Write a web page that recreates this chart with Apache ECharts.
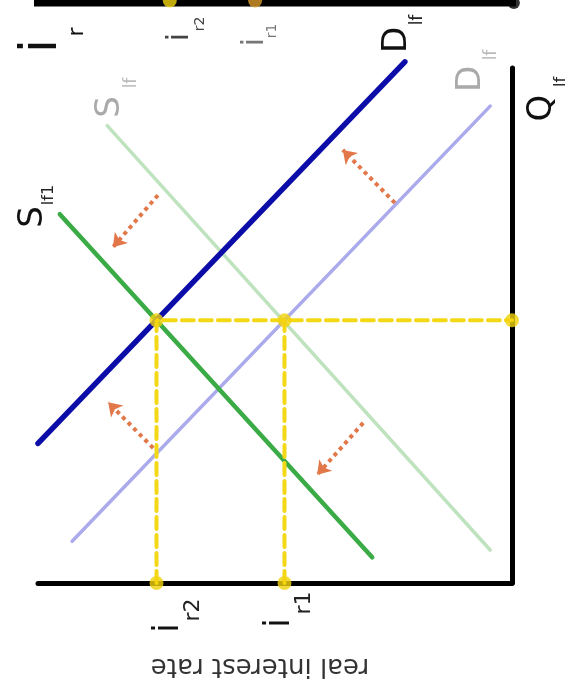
<!DOCTYPE html>
<html>
<head>
<meta charset="utf-8">
<script src="https://cdn.jsdelivr.net/npm/echarts@6/dist/echarts.min.js"></script>
<style>
  html, body { margin: 0; padding: 0; background: #fff; }
  #chart { width: 573px; height: 698px; }
</style>
</head>
<body>
<div id="chart"></div>
<script>
// loanable funds diagram (picture is turned a quarter turn)
// x = real interest rate (grows to the left), y = quantity Q_lf (grows upward)
const demandDark = [[100, 27.1], [22.6, 101.2]];   // D_lf, dark blue
const demandLight = [[92.8, 8.1], [4.6, 92.6]];    // D_lf, light blue
const supplyDark = [[95.4, 71.6], [29.5, 5.0]];    // S_lf1, green
const supplyLight = [[85.4, 88.8], [4.6, 6.4]];    // S_lf, light green
const guideOne = [[75, 0], [75, 51], [0, 51]];     // i_r2 equilibrium
const guideTwo = [[48, 0], [48, 51]];              // i_r1 equilibrium
const guideDots = [[75, 51], [48, 51], [75, 0], [48, 0], [0, 51]];
const shiftArrows = [
  [[74.7, 75.3], [84.2, 65.2]],
  [[75.7, 26.2], [85.2, 35.1]],
  [[24.7, 73.8], [35.7, 84.1]],
  [[31.4, 31.1], [41.1, 21.0]]
];
const otherAxis = [[108, 112.6], [-0.4, 112.6]];   // piece of the next chart
const otherDots = [[72.2, 113.1], [54.2, 113.1]];

const chart = echarts.init(document.getElementById('chart'));

const font = 'DejaVu Sans';
const Q = Math.PI / 2;
function label(text, x, y, size, color, rot) {
  return {
    type: 'text', x: x, y: y, rotation: rot === undefined ? Q : rot,
    style: {
      text: text, fill: color, font: size + 'px "' + font + '"',
      align: 'center', verticalAlign: 'middle'
    },
    z: 50
  };
}

function straight(data, color, width, type) {
  return {
    type: 'line', data: data, symbol: 'none', clip: false, silent: true,
    lineStyle: { color: color, width: width, type: type || 'solid', cap: 'round' },
    z: type ? 4 : 3
  };
}

const option = {
  animation: false,
  grid: { left: 38, right: 61, top: 68, bottom: 115 },
  xAxis: {
    type: 'value', min: 0, max: 100, inverse: true, position: 'bottom',
    axisLine: { show: true, lineStyle: { color: '#000', width: 5 } },
    axisTick: { show: false }, axisLabel: { show: false }, splitLine: { show: false }
  },
  yAxis: {
    type: 'value', min: 0, max: 100, position: 'right',
    axisLine: { show: true, lineStyle: { color: '#000', width: 5 } },
    axisTick: { show: false }, axisLabel: { show: false }, splitLine: { show: false }
  },
  series: [
    straight(supplyLight, '#bfe2bf', 3.5),
    straight(demandLight, '#aaaaec', 3.5),
    straight(supplyDark, '#3aab45', 4.5),
    straight(demandDark, '#0c0ca8', 5.5),
    straight(guideOne, '#f3d816', 4, [12, 6]),
    straight(guideTwo, '#f3d816', 4, [12, 6]),
    straight(otherAxis, '#000', 7),
    {
      type: 'scatter', data: guideDots, symbolSize: 14, clip: false, silent: true,
      itemStyle: { color: '#f3d30c' }, z: 6
    },
    {
      type: 'scatter', data: otherDots, symbolSize: 14, clip: false, silent: true,
      itemStyle: { color: function (p) { return p.dataIndex === 0 ? '#f3d30c' : '#d99a2a'; } }, z: 6
    },
    {
      type: 'scatter', data: [otherAxis[1]], symbolSize: 12, clip: false, silent: true,
      itemStyle: { color: '#000' }, z: 6
    },
    {
      type: 'lines', coordinateSystem: 'cartesian2d', polyline: false, silent: true,
      data: shiftArrows.map(function (c) { return { coords: c }; }),
      symbol: ['none', 'arrow'], symbolSize: 13,
      lineStyle: { color: '#e2784a', width: 4, type: 'dotted', opacity: 1 },
      z: 7
    }
  ],
  graphic: [
    label('i', 42, 46, 52, '#111'),
    label('r', 77, 32, 22, '#111'),
    label('i', 180, 37, 30, '#444'),
    label('r2', 200, 24, 14, '#444'),
    label('i', 255, 42, 30, '#777'),
    label('r1', 272, 31, 14, '#777'),
    label('D', 397, 40, 34, '#111'),
    label('lf', 418, 20, 17, '#222'),
    label('D', 471, 79, 34, '#aaa'),
    label('lf', 492, 55, 17, '#bbb'),
    label('Q', 542, 108, 34, '#111'),
    label('lf', 561, 82, 16, '#222'),
    label('S', 110, 107, 34, '#aaa'),
    label('lf', 132, 83, 17, '#bbb'),
    label('S', 33, 217, 34, '#111'),
    label('lf1', 49, 195, 16, '#222'),
    label('i', 169, 628, 36, '#111'),
    label('r2', 193, 610, 22, '#222'),
    label('i', 280, 623, 36, '#111'),
    label('r1', 304, 603, 22, '#222'),
    label('real interest rate', 260, 666, 26, '#333', Math.PI)
  ]
};

chart.setOption(option);
</script>
</body>
</html>
